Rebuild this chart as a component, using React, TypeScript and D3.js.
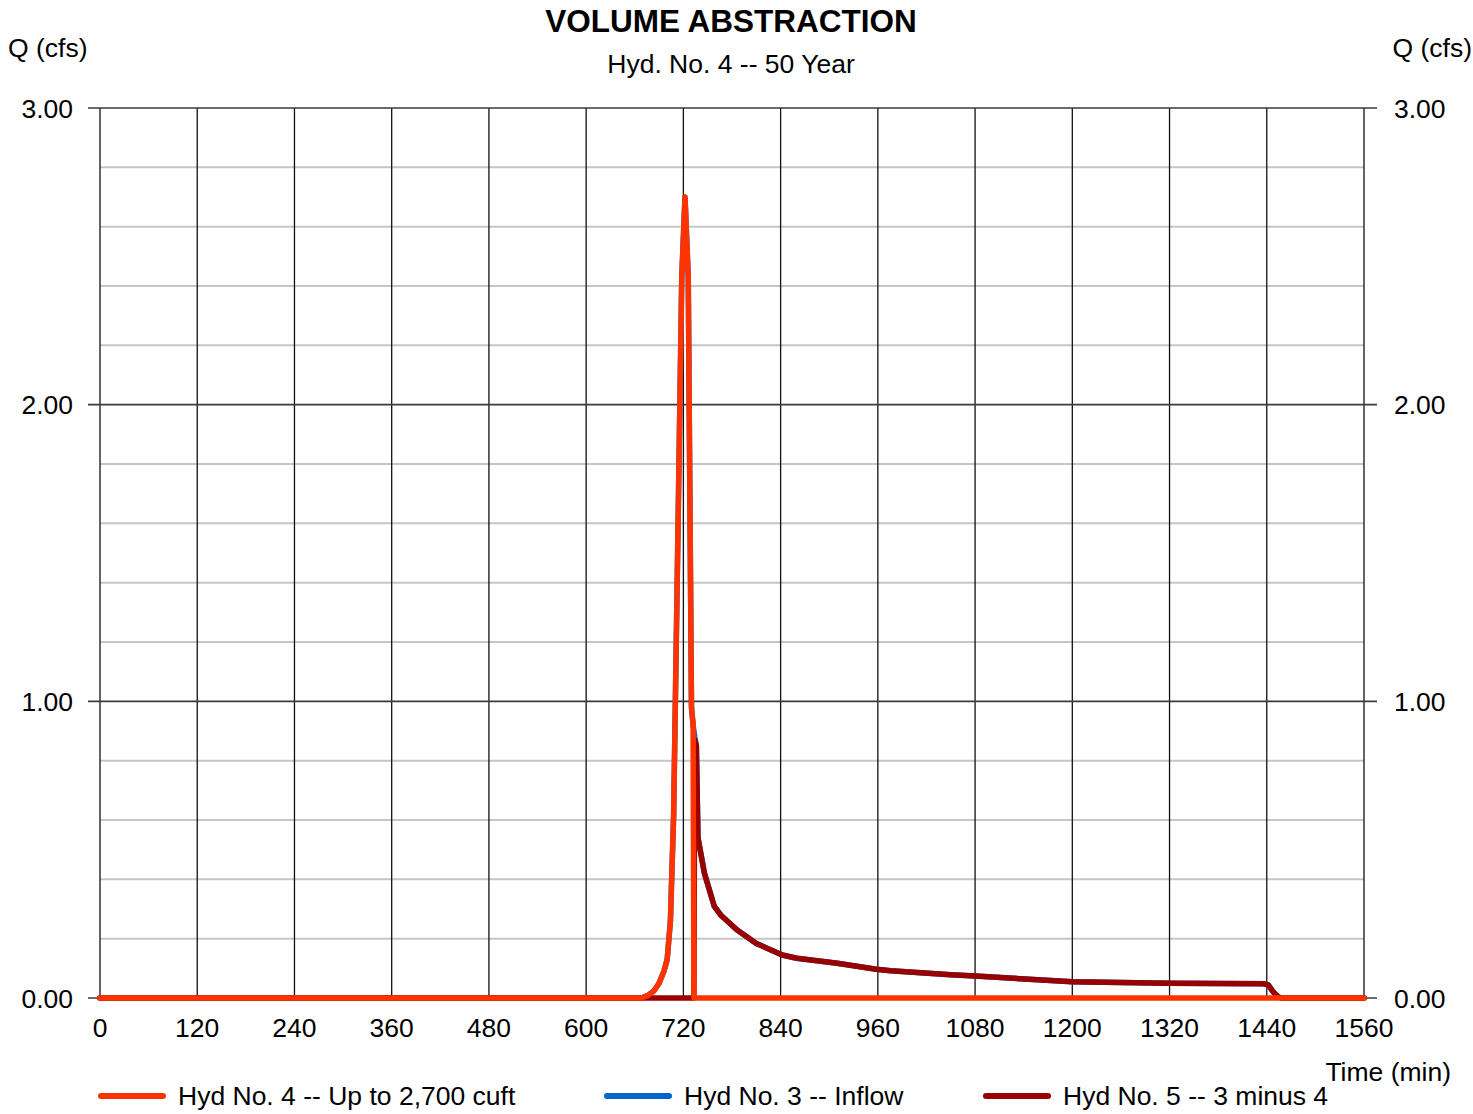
import React, { useRef, useEffect } from "react";
import * as d3 from "d3";

// chart values
const xTicks = [0, 120, 240, 360, 480, 600, 720, 840, 960, 1080, 1200, 1320, 1440, 1560];
const yMajor = [0, 1, 2, 3];
const yMinor = [0.2, 0.4, 0.6, 0.8, 1.2, 1.4, 1.6, 1.8, 2.2, 2.4, 2.6, 2.8];

// Hyd No. 3 -- Inflow
const hyd3Time = [0, 668, 676, 684, 690, 696, 700, 704, 708, 710, 714, 718, 722, 726, 728, 730, 732, 734, 736, 738, 746, 758, 766, 786, 810, 842, 860, 910, 958, 976, 1050, 1080, 1200, 1320, 1436, 1442, 1448, 1454, 1458, 1560];
const hyd3Q = [0, 0, 0.008, 0.025, 0.05, 0.09, 0.13, 0.26, 0.62, 0.98, 1.7, 2.43, 2.7, 2.43, 1.7, 0.98, 0.92, 0.88, 0.85, 0.54, 0.42, 0.31, 0.28, 0.23, 0.184, 0.145, 0.134, 0.117, 0.097, 0.092, 0.078, 0.074, 0.055, 0.05, 0.048, 0.044, 0.02, 0.004, 0, 0];

// Hyd No. 4 -- Up to 2,700 cuft
const hyd4Time = [0, 668, 676, 684, 690, 696, 700, 704, 708, 710, 714, 718, 722, 726, 728, 730, 732, 733, 1560];
const hyd4Q = [0, 0, 0.008, 0.025, 0.05, 0.09, 0.13, 0.26, 0.62, 0.98, 1.7, 2.43, 2.7, 2.43, 1.7, 0.98, 0.92, 0, 0];

// Hyd No. 5 -- 3 minus 4
const hyd5Time = [0, 733, 734, 736, 738, 746, 758, 766, 786, 810, 842, 860, 910, 958, 976, 1050, 1080, 1200, 1320, 1436, 1442, 1448, 1454, 1458, 1560];
const hyd5Q = [0, 0, 0.87, 0.85, 0.54, 0.42, 0.31, 0.28, 0.23, 0.184, 0.145, 0.134, 0.117, 0.097, 0.092, 0.078, 0.074, 0.055, 0.05, 0.048, 0.044, 0.02, 0.004, 0, 0];

const legendNames = ["Hyd No. 4 -- Up to 2,700 cuft", "Hyd No. 3 -- Inflow", "Hyd No. 5 -- 3 minus 4"];
const legendColors = ["#ff3300", "#0066cc", "#990000"];

const W = 1473;
const H = 1114;
const FONT = "'Liberation Sans', Arial, sans-serif";

const App: React.FC = () => {
  const ref = useRef<SVGSVGElement | null>(null);

  useEffect(() => {
    const svg = d3.select(ref.current);
    svg.selectAll("*").remove();

    const x = d3.scaleLinear().domain([0, 1560]).range([100, 1364]);
    const y = d3.scaleLinear().domain([0, 3]).range([998, 108]);

    svg.append("rect").attr("width", W).attr("height", H).attr("fill", "#fff");

    // minor horizontal grid
    svg
      .append("g")
      .selectAll("line")
      .data(yMinor)
      .join("line")
      .attr("x1", x(0))
      .attr("x2", x(1560))
      .attr("y1", (d) => y(d))
      .attr("y2", (d) => y(d))
      .attr("stroke", "#c6c6c6")
      .attr("stroke-width", 2);

    // vertical grid
    svg
      .append("g")
      .selectAll("line")
      .data(xTicks)
      .join("line")
      .attr("x1", (d) => x(d))
      .attr("x2", (d) => x(d))
      .attr("y1", y(3))
      .attr("y2", y(0))
      .attr("stroke", "#111")
      .attr("stroke-width", 1.3);

    // major horizontal grid + ticks
    svg
      .append("g")
      .selectAll("line")
      .data(yMajor)
      .join("line")
      .attr("x1", x(0) - 12)
      .attr("x2", x(1560) + 13)
      .attr("y1", (d) => y(d))
      .attr("y2", (d) => y(d))
      .attr("stroke", "#3a3a3a")
      .attr("stroke-width", 1.6);

    const text = (t: string, px: number, py: number, anchor = "start", size = 26.5, weight = "normal") =>
      svg
        .append("text")
        .attr("x", px)
        .attr("y", py)
        .attr("text-anchor", anchor)
        .attr("font-family", FONT)
        .attr("font-size", size)
        .attr("font-weight", weight)
        .attr("fill", "#000")
        .text(t);

    // y labels both sides
    yMajor.forEach((v) => {
      text(v.toFixed(2), 73, y(v) + 9.5, "end");
      text(v.toFixed(2), 1394, y(v) + 9.5, "start");
    });

    // x labels
    xTicks.forEach((v) => text(String(v), x(v), 1037, "middle"));

    text("VOLUME ABSTRACTION", 731, 32, "middle", 31.5, "bold");
    text("Hyd. No. 4 -- 50 Year", 731, 73, "middle");
    text("Q (cfs)", 8, 57, "start");
    text("Q (cfs)", 1472, 57, "end");
    text("Time (min)", 1451, 1081, "end");

    const line = d3
      .line<[number, number]>()
      .x((d) => x(d[0]))
      .y((d) => y(d[1]));

    const series = [
      { t: hyd3Time, q: hyd3Q, color: legendColors[1] },
      { t: hyd5Time, q: hyd5Q, color: legendColors[2] },
      { t: hyd4Time, q: hyd4Q, color: legendColors[0] },
    ];
    series.forEach((s) => {
      const pts = s.t.map((t, i) => [t, s.q[i]] as [number, number]);
      svg
        .append("path")
        .datum(pts)
        .attr("fill", "none")
        .attr("stroke", s.color)
        .attr("stroke-width", 5.5)
        .attr("stroke-linejoin", "round")
        .attr("stroke-linecap", "round")
        .attr("d", line);
    });

    // legend
    const legendX = [101, 607, 986];
    legendNames.forEach((name, i) => {
      svg
        .append("line")
        .attr("x1", legendX[i])
        .attr("x2", legendX[i] + 62)
        .attr("y1", 1096)
        .attr("y2", 1096)
        .attr("stroke", legendColors[i])
        .attr("stroke-width", 6)
        .attr("stroke-linecap", "round");
      text(name, legendX[i] + 77, 1105, "start");
    });
  }, []);

  return (
    <div style={{ position: "absolute", left: 0, top: 0 }}>
      <svg ref={ref} width={W} height={H} style={{ display: "block" }} />
    </div>
  );
};

export default App;
